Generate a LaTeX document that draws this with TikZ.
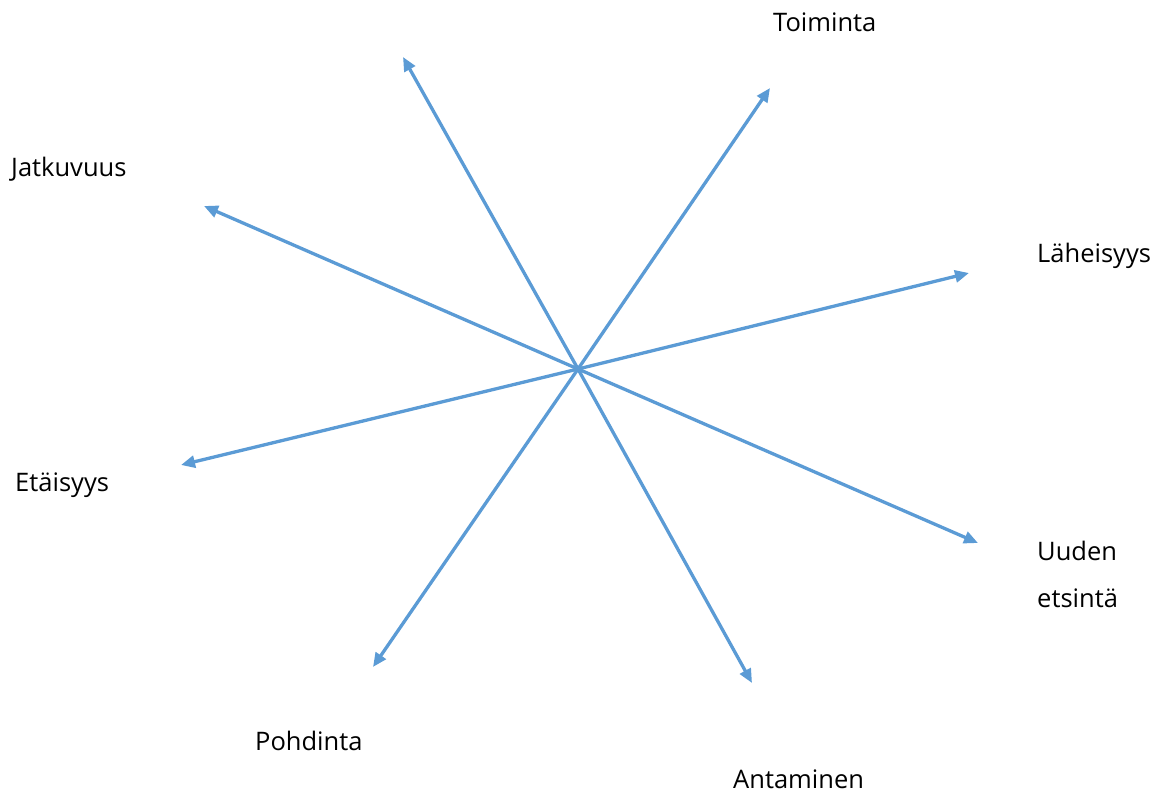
\documentclass[tikz,border=0pt]{standalone}
\usepackage{fontspec}
\setmainfont{Open Sans}
\usetikzlibrary{arrows.meta}
\definecolor{arrowblue}{HTML}{5B9BD5}
\tikzset{
  ray/.style={draw=arrowblue, line width=3.3pt, -{Triangle[length=14pt,width=12pt]}},
  lbl/.style={anchor=base west, inner sep=0pt, font=\fontsize{25.5}{30}\selectfont}
}
\begin{document}
\begin{tikzpicture}[x=1pt,y=-1pt]
\useasboundingbox (0,0) rectangle (1165,792);
\coordinate (c) at (578,369);
\coordinate (e1) at (403,57);
\coordinate (e2) at (770,88);
\coordinate (e3) at (204,206);
\coordinate (e4) at (969,273);
\coordinate (e5) at (181,465);
\coordinate (e6) at (978,543);
\coordinate (e7) at (373,667);
\coordinate (e8) at (752,683);
\foreach \e in {e1,e2,e3,e4,e5,e6,e7,e8} \draw[ray] (c) -- (\e);
\node[lbl] (toiminta) at (773,32) {Toiminta};
\node[lbl] (jatkuvuus) at (11,176) {Jatkuvuus};
\node[lbl] (laheisyys) at (1037,262) {Läheisyys};
\node[lbl] (etaisyys) at (15,491) {Etäisyys};
\node[lbl] (uuden) at (1037,560) {Uuden};
\node[lbl] (etsinta) at (1037,607) {etsintä};
\node[lbl] (pohdinta) at (255,750) {Pohdinta};
\node[lbl] (antaminen) at (733,788) {Antaminen};
\end{tikzpicture}
\end{document}
